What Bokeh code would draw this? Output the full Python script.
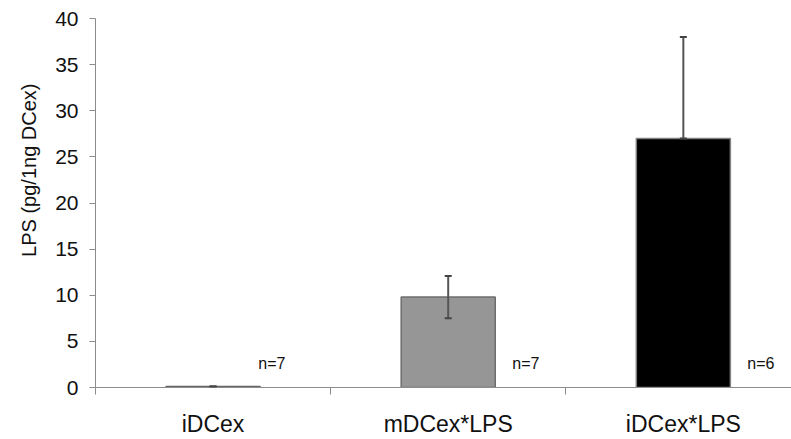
from bokeh.plotting import figure
from bokeh.models import (ColumnDataSource, Range1d, FixedTicker, Whisker, TeeHead,
                          Title)
from bokeh.core.properties import value
from bokeh.embed import file_html
from bokeh.resources import INLINE

# ---- data ----
categories = ["iDCex", "mDCex*LPS", "iDCex*LPS"]
means = [0.12, 9.8, 27.0]
err_upper = [0.12, 12.1, 38.0]
err_lower = [0.12, 7.5, 27.0]
n_labels = ["n=7", "n=7", "n=6"]
y_ticks = [0, 5, 10, 15, 20, 25, 30, 35, 40]

# ---- styles ----
bar_fill = ["#ffffff", "#969696", "#000000"]
bar_line = ["#666666", "#6e6e6e", "#808080"]
n_offsets = [0.75, 0.83, 0.83]
FONT = "Liberation Sans"
AXIS_COLOR = "#8c8c8c"

centers = [i + 0.5 for i in range(len(categories))]
src = ColumnDataSource(dict(x=centers, top=means, fill=bar_fill, line=bar_line,
                            up=err_upper, lo=err_lower))

p = figure(width=791, height=439, output_backend="svg", toolbar_location=None,
           x_range=Range1d(0, 2.96), y_range=Range1d(0, 40),
           min_border_left=95, min_border_right=0, min_border_top=18,
           min_border_bottom=48)
p.outline_line_color = None
p.grid.visible = False
p.background_fill_color = "white"
p.border_fill_color = "white"

p.vbar(x="x", top="top", bottom=0, width=0.4, source=src,
       fill_color="fill", line_color="line", line_width=1.5)

wh = Whisker(base="x", upper="up", lower="lo", source=src, level="annotation",
             line_color="#555555", line_width=2,
             upper_head=TeeHead(size=7, line_color="#444444", line_width=2),
             lower_head=TeeHead(size=7, line_color="#444444", line_width=2))
p.add_layout(wh)

# n labels
nx = [i + o for i, o in zip(range(len(categories)), n_offsets)]
p.text(x=nx, y=[2.6] * 3, text=n_labels, text_font=value(FONT),
       text_font_size="16px", text_align="center", text_baseline="middle",
       text_color="#111111")

# y axis
ya = p.yaxis[0]
ya.ticker = FixedTicker(ticks=y_ticks)
ya.axis_line_color = AXIS_COLOR
ya.major_tick_line_color = AXIS_COLOR
ya.major_tick_out = 6
ya.major_tick_in = 0
ya.minor_tick_line_color = None
ya.major_label_text_font = FONT
ya.major_label_text_font_size = "21px"
ya.major_label_text_color = "#111111"
ya.major_label_standoff = 11

# x axis
xa = p.xaxis[0]
xa.ticker = FixedTicker(ticks=centers, minor_ticks=[0, 1, 2, 3])
xa.major_label_overrides = {c: name for c, name in zip(centers, categories)}
xa.axis_line_color = AXIS_COLOR
xa.major_tick_line_color = None
xa.major_tick_out = 0
xa.major_tick_in = 0
xa.minor_tick_line_color = AXIS_COLOR
xa.minor_tick_out = 7
xa.minor_tick_in = 0
xa.major_label_text_font = FONT
xa.major_label_text_font_size = "23px"
xa.major_label_text_color = "#111111"
xa.major_label_standoff = 16

# y axis title (off-centre in the original)
p.add_layout(Title(text="LPS (pg/1ng DCex)", align="right", offset=65,
                   vertical_align="middle", standoff=24,
                   text_font=FONT, text_font_size="20px",
                   text_font_style="normal", text_color="#111111"), "left")

open("out.html", "w").write(file_html(p, INLINE))
